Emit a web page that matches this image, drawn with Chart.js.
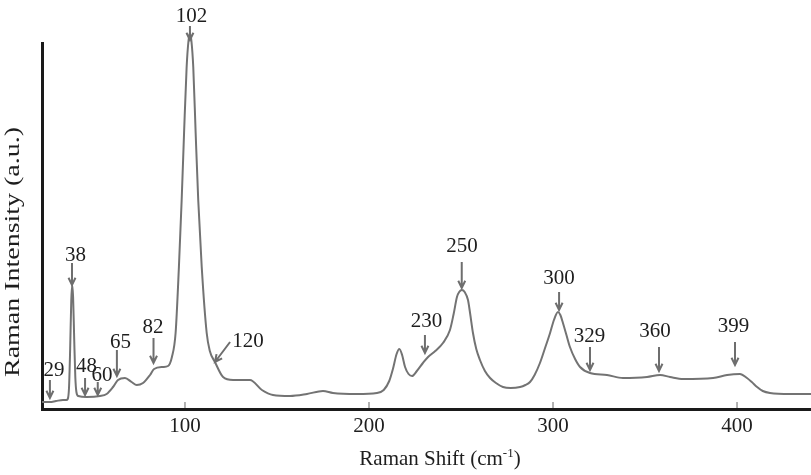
<!DOCTYPE html>
<html>
<head>
<meta charset="utf-8">
<script src="https://cdn.jsdelivr.net/npm/chart.js@4.4.0/dist/chart.umd.min.js"></script>
<style>
  html, body { margin: 0; padding: 0; background: #fff; }
  #wrap { width: 811px; height: 475px; position: relative; }
</style>
</head>
<body>
<div id="wrap"><canvas id="chart"></canvas></div>
<script>
// Raman spectrum
const shift = [22.3, 26.6, 29.9, 33.7, 35.5, 36.3, 37.0, 37.6, 38.2, 38.7, 39.2, 39.8, 40.4, 41.0, 42.0,
  46.6, 53.8, 57.4, 60.9, 63.6, 67.4, 71.0, 73.8, 77.2, 81.0, 83.2, 88.0, 90.8, 92.9, 94.9,
  96.7, 98.2, 99.5, 100.9, 101.9, 102.7, 103.5, 104.5, 105.8, 107.2, 109.1, 111.8, 113.5, 116.3,
  120.7, 126.1, 135.3, 141.8, 147.8, 157.1, 166.3, 175.0, 180.4, 193.5, 204.3, 208.0, 211.0,
  213.0, 215.0, 216.5, 218.0, 219.6, 221.5, 223.4, 226.0, 229.3, 232.1, 236.0, 240.2, 244.0,
  246.0, 247.8, 249.0, 250.5, 252.0, 253.8, 255.0, 256.5, 258.3, 260.3, 263.0, 265.8, 269.0,
  272.8, 277.0, 282.1, 285.0, 287.5, 290.0, 292.9, 295.5, 298.4, 300.5, 302.7, 304.0, 305.4,
  307.3, 309.2, 312.0, 314.7, 320.1, 329.3, 338.0, 351.1, 358.2, 363.6, 370.7, 387.0, 394.6,
  401.6, 405.4, 408.0, 410.9, 414.0, 417.9, 428.8, 440.2];
const intensity = [7, 7, 8, 9, 9, 10, 22, 60, 108, 124, 112, 70, 32, 17, 13,
  12, 13, 15, 22, 29, 31, 27, 24, 26, 34, 40, 42, 43, 52, 76,
  142, 209, 276, 342, 368, 376, 368, 342, 276, 209, 142, 76, 58, 47,
  32, 29, 29, 19, 14, 13, 15, 18, 16, 15, 16, 19, 28,
  40, 55, 60, 54, 42, 35, 33, 38, 46, 52, 58, 66, 79,
  95, 112, 117, 119, 117, 109, 95, 76, 60, 49, 38, 31, 26,
  22, 21, 22, 24, 27, 34, 46, 60, 76, 89, 97, 94, 86,
  74, 62, 50, 42, 36, 34, 31, 32, 34, 32, 30, 31, 34,
  35, 31, 27, 22, 18, 16, 15, 15];

const xTicks = [100, 200, 300, 400];

// peak annotations (arrow tail -> tip, label centre), in data units
const peakLabels = ['29', '38', '48', '60', '65', '82', '102', '120', '230', '250', '300', '329', '360', '399'];
const arrowX     = [26.6, 38.6, 45.7, 52.6, 63.0, 82.9, 102.7, 116.3, 230.4, 250.4, 303.3, 320.1, 357.6, 398.9];
const arrowTip   = [11, 124, 14, 14, 33, 46, 369, 47, 56, 121, 99, 39, 38, 44];
const tailX      = [26.6, 38.6, 45.7, 52.6, 63.0, 82.9, 102.7, 124.5, 230.4, 250.4, 303.3, 320.1, 357.6, 398.9];
const tailY      = [29, 146, 31, 27, 59, 71, 383, 67, 74, 147, 117, 62, 62, 67];
const labelX     = [28.8, 40.5, 46.5, 54.9, 64.9, 82.6, 103.6, 134.2, 231.3, 250.5, 303.3, 319.8, 355.4, 398.1];
const labelY     = [40, 155, 44.5, 35, 68.5, 83.5, 394.5, 69, 89.5, 164, 132, 74.5, 79.5, 84];

const serif = '"Liberation Serif", "Times New Roman", serif';

const annotate = {
  id: 'annotate',
  afterDraw(chart) {
    const { ctx, scales: { x, y }, chartArea } = chart;
    ctx.save();

    // small inward ticks on the x axis
    ctx.strokeStyle = '#999';
    ctx.lineWidth = 1.5;
    xTicks.forEach(v => {
      const px = x.getPixelForValue(v);
      ctx.beginPath();
      ctx.moveTo(px, chartArea.bottom - 1);
      ctx.lineTo(px, chartArea.bottom - 7);
      ctx.stroke();
    });

    // arrows
    ctx.strokeStyle = '#6e6e6e';
    ctx.lineWidth = 2;
    peakLabels.forEach((t, i) => {
      const x1 = x.getPixelForValue(tailX[i]), y1 = y.getPixelForValue(tailY[i]);
      const x2 = x.getPixelForValue(arrowX[i]), y2 = y.getPixelForValue(arrowTip[i]);
      const a = Math.atan2(y2 - y1, x2 - x1);
      ctx.beginPath();
      ctx.moveTo(x1, y1);
      ctx.lineTo(x2, y2);
      ctx.moveTo(x2 - 8 * Math.cos(a - 0.45), y2 - 8 * Math.sin(a - 0.45));
      ctx.lineTo(x2, y2);
      ctx.lineTo(x2 - 8 * Math.cos(a + 0.45), y2 - 8 * Math.sin(a + 0.45));
      ctx.stroke();
    });

    // peak labels
    ctx.fillStyle = '#1e1e1e';
    ctx.font = '21px ' + serif;
    ctx.textAlign = 'center';
    ctx.textBaseline = 'alphabetic';
    peakLabels.forEach((t, i) => {
      ctx.fillText(t, x.getPixelForValue(labelX[i]), y.getPixelForValue(labelY[i]) + 7);
    });

    // x title with superscript
    const main = 'Raman Shift (cm', sup = '-1', end = ')';
    ctx.font = '21px ' + serif;
    const w1 = ctx.measureText(main).width, w3 = ctx.measureText(end).width;
    ctx.font = '13px ' + serif;
    const w2 = ctx.measureText(sup).width;
    let sx = 440 - (w1 + w2 + w3) / 2;
    ctx.textAlign = 'left';
    ctx.font = '21px ' + serif;
    ctx.fillText(main, sx, 465);
    ctx.font = '13px ' + serif;
    ctx.fillText(sup, sx + w1, 457);
    ctx.font = '21px ' + serif;
    ctx.fillText(end, sx + w1 + w2, 465);

    // y title, stretched along its length like the original
    ctx.translate(19, 252);
    ctx.rotate(-Math.PI / 2);
    ctx.font = '22px ' + serif;
    ctx.textAlign = 'center';
    const yt = 'Raman Intensity (a.u.)';
    const k = 250 / ctx.measureText(yt).width;
    ctx.scale(k, 1);
    ctx.fillText(yt, 0, 0);
    ctx.restore();
  }
};

new Chart(document.getElementById('chart'), {
  type: 'line',
  data: {
    datasets: [{
      data: shift.map((s, i) => ({ x: s, y: intensity[i] })),
      borderColor: '#737373',
      borderWidth: 2,
      pointRadius: 0,
      cubicInterpolationMode: 'monotone',
      clip: false,
      fill: false
    }]
  },
  options: {
    responsive: true,
    maintainAspectRatio: false,
    animation: false,
    events: [],
    layout: { padding: { top: 43, right: 0, left: 0, bottom: 0 } },
    plugins: { legend: { display: false }, tooltip: { enabled: false } },
    scales: {
      x: {
        type: 'linear',
        min: 22.3,
        max: 440.2,
        afterBuildTicks: axis => { axis.ticks = xTicks.map(v => ({ value: v })); },
        afterFit: axis => { axis.height = 66; },
        grid: { display: true, drawOnChartArea: false, drawTicks: false },
        border: { display: true, color: '#1a1a1a', width: 3 },
        ticks: { color: '#1e1e1e', padding: 5, font: { family: serif, size: 21 } }
      },
      y: {
        min: 0,
        max: 366,
        afterFit: axis => { axis.width = 42; },
        grid: { display: true, drawOnChartArea: false, drawTicks: false },
        border: { display: true, color: '#1a1a1a', width: 3 },
        ticks: { display: false }
      }
    }
  },
  plugins: [annotate]
});
</script>
</body>
</html>
